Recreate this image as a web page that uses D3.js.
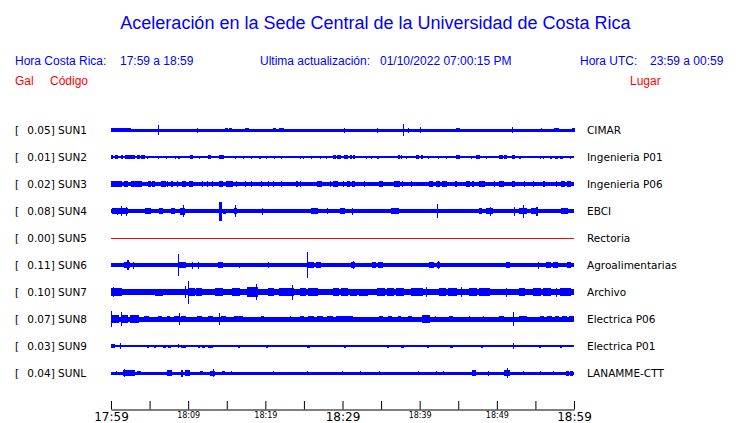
<!DOCTYPE html>
<html>
<head>
<meta charset="utf-8">
<script src="https://cdn.jsdelivr.net/npm/d3@7"></script>
<style>
  html, body { margin: 0; padding: 0; background: #fff; }
  svg { display: block; }
</style>
</head>
<body>
<svg id="chart" width="740" height="423"></svg>
<script>
// ---------------- DATA ----------------
const titleText = "Aceleración en la Sede Central de la Universidad de Costa Rica";
const headerLocal = ["Hora Costa Rica:", "17:59 a 18:59"];
const headerUpdate = ["Ultima actualización:", "01/10/2022 07:00:15 PM"];
const headerUTC = ["Hora UTC:", "23:59 a 00:59"];
const colHeads = ["Gal", "Código", "Lugar"];

const stationCodes = ["SUN1","SUN2","SUN3","SUN4","SUN5","SUN6","SUN7","SUN8","SUN9","SUNL"];
const stationPeaks = ["0.05","0.01","0.02","0.08","0.00","0.11","0.10","0.07","0.03","0.04"];
const stationPlaces = ["CIMAR","Ingenieria P01","Ingenieria P06","EBCI","Rectoria","Agroalimentarias","Archivo","Electrica P06","Electrica P01","LANAMME-CTT"];
// background (noise) half-amplitude of each trace, display units
const stationBase = [1.5, 0.55, 1.6, 1.6, 0, 1.6, 2.7, 2.5, 1.1, 1.5];

// time axis (minutes after 17:59)
const tickMinutes = [0,5,10,15,20,25,30,35,40,45,50,55,60];
const tickLabels  = ["17:59","","18:09","","18:19","","18:29","","18:39","","18:49","","18:59"];
const bigTicks    = ["17:59","18:29","18:59"];

// bursts / spikes of each trace: [start minute, end minute, half-amplitude]
const sun1Events = [[0,2.5,1.9],[6.1,6.1,5],[11.2,11.2,2.5],[14.8,15.1,2],[15.4,15.6,2],[17.4,17.8,2],[21,21.3,2],[21.9,22.3,2],
  [30.3,30.3,2.5],[34.5,34.5,2.5],[37.9,37.9,6],[38.5,38.5,2.5],[40.1,40.1,3],[44.8,45.1,2],[52.0,52.0,3],[55.8,55.8,2],[57.5,58,2],[59.8,60,2]];
const sun2Events = [[0,0.2,1.7],[0.6,0.8,1.7],[1.3,1.5,1.7],[1.9,2.1,1.7],[2.3,2.6,1.7],[2.8,3.1,1.7],[3.4,3.7,1.7],[3.9,4.4,1.7],
  [4.7,4.7,1.5],[6.1,6.1,1.5],[7.2,7.2,1.5],[8.3,8.3,1.5],[8.8,8.8,1.5],[10.3,10.6,1.7],[11.5,11.5,1.5],[12.6,12.9,1.7],[14.0,14.6,1.7],
  [16.1,16.1,1.5],[17.2,17.2,1.5],[18.2,18.2,1.5],[19.3,19.3,1.5],[20.2,20.2,1.5],[21.2,21.2,1.5],[22.1,22.1,1.5],[24.5,24.5,1.5],
  [24.9,24.9,1.5],[26.0,26.0,1.5],[27.1,27.1,1.5],[27.9,27.9,1.5],[28.8,29.1,1.7],[29.4,29.7,1.7],[30.3,30.6,1.7],[31.0,31.2,1.7],
  [31.4,31.6,1.7],[33.1,33.1,1.5],[33.8,33.8,1.5],[34.6,34.6,1.5],[37.2,37.4,1.7],[37.6,37.7,1.7],[38.3,38.3,1.5],[39.6,39.8,1.7],
  [40.2,40.4,1.7],[41.1,41.1,1.5],[42.4,42.4,1.5],[43.5,43.5,1.5],[44.8,45.2,1.7],[46.7,46.7,1.5],[47.4,47.8,1.7],[48.7,48.7,1.5],
  [50.4,50.7,1.7],[51.0,51.3,1.7],[52.0,52.3,2.0],[53,53,1.5],[55.6,55.6,1.5],[56.0,56.0,1.5],[56.9,57.1,1.5],[57.6,57.8,1.5],
  [58.3,58.5,1.5],[59.5,59.5,1.5]];
const sun3Events = [[0,0.15,2.7],[0.3,0.8,2.7],[1.0,1.4,2.7],[1.8,2.2,2.7],[2.7,3.4,2.7],[3.5,4.0,2.7],[4.8,5.1,2.7],[5.4,5.7,2.7],
  [6.6,7.0,2.7],[7.3,7.3,2.7],[7.9,7.9,2.7],[8.6,8.6,2.7],[9.3,9.6,2.7],[10.2,10.6,2.7],[11.9,11.9,2.7],[12.5,12.5,2.7],[13.1,13.1,2.7],
  [14.1,14.4,2.7],[15.0,15.8,2.7],[16.3,16.3,2.7],[17.4,17.4,2.7],[18.2,18.2,2.7],[19.5,19.5,2.7],[20.4,20.4,2.7],[21.1,21.1,2.7],
  [22.1,22.1,2.7],[24.1,24.1,2.7],[24.5,24.5,2.7],[26.8,27.3,2.7],[28.4,28.4,2.7],[28.8,29.4,2.7],[30.1,30.1,2.7],[30.6,30.9,2.7],
  [31.3,31.6,2.7],[32.9,32.9,2.7],[34.8,35.2,2.7],[36.8,37.4,2.7],[37.8,37.8,2.7],[38.9,38.9,2.7],[41.3,41.6,2.7],[42.2,42.6,2.7],
  [43.0,43.5,2.7],[44.6,44.8,2.7],[46.1,46.5,2.7],[46.9,46.9,2.7],[47.8,48.4,2.7],[49.7,49.7,2.7],[50.4,50.8,2.7],[52.0,52.3,3.3],
  [53.6,53.6,2.7],[54.7,54.7,2.7],[56.0,56.2,2.7],[57.7,57.7,2.7],[58.4,58.8,2.7],[59.1,59.5,2.7]];
const sun4Events = [[0.2,2.1,2.6],[0.8,0.8,3.5],[1.4,1.4,5],[2.0,2.0,4.5],[2.5,3.3,2.2],[4.5,5.1,2.8],[6.3,6.7,2.8],[7.9,8.2,3.2],
  [9.0,9.5,3.5],[9.4,9.4,6],[10.2,10.6,2.2],[11.5,11.9,2.2],[12.8,12.8,2.2],[14.1,14.3,9.5],[14.6,14.8,2.5],[16.0,16.3,3],[16.1,16.1,6],
  [17.6,17.9,2.4],[18.3,18.8,2.4],[19.6,19.6,3.5],[20.9,21.5,2.2],[22.3,22.3,2.2],[24.1,24.5,2.4],[26.0,26.7,2.8],[28.1,28.1,3],
  [29.7,30.3,2.8],[30.6,31.0,2.4],[31.3,31.3,3.5],[32.0,32.4,2.4],[32.8,33.2,2.4],[34.8,34.8,2.2],[36.4,37.2,3.2],[37.7,38.4,2.4],
  [38.8,39.6,2.4],[40.9,41.6,2.4],[42.3,42.3,7.3],[42.6,43.0,2.2],[43.6,44.3,2.2],[45,45,2.2],[46.5,46.5,2.2],[47.8,48,3],
  [48.7,49.5,2.8],[49.2,49.2,4.5],[50.1,50.4,2.2],[52.3,52.3,4.5],[53,53.9,3.2],[53.4,53.4,6.5],[54.5,55.3,2.8],[55.2,55.2,4.5],
  [56.9,57.3,2.4],[58.4,59.1,3]];
const sun5Events = [];
const sun6Events = [[0.6,1.4,2],[1.8,2.4,3.2],[2.2,2.2,4.7],[2.7,3.5,2.4],[2.9,2.9,3.5],[4.3,4.8,2],[5.3,5.5,2],[6.2,6.2,2],[7.5,7.5,2],
  [8.7,8.7,10.8],[8.9,9.6,3.2],[10.0,10.4,2.4],[10.5,10.5,3.5],[10.8,11.1,2.4],[11.3,11.3,3.5],[12.5,12.8,2],[13.9,14.5,3.2],[14.8,15.0,2.4],
  [16.7,16.7,2.5],[17.6,17.9,2.4],[18.4,18.9,2.4],[20.4,20.4,3],[21.8,21.8,2],[24.1,24.7,2.4],[25.4,25.4,12.7],[25.6,26.2,3.2],
  [26.6,27.1,2.8],[28.8,29.1,2.4],[29.4,29.7,2.4],[30.6,30.6,2],[31.2,31.6,3.2],[31.4,31.4,4.3],[32.2,32.5,2.4],[32.8,33.1,2.4],
  [33.9,34.3,2.8],[34.7,35.2,2.8],[36.1,36.4,2.4],[36.8,37.1,2.4],[40,40.4,2.4],[41.3,41.8,2.8],[42.4,42.4,4],[42.3,42.6,2.8],[43.5,43.9,2],
  [45.2,45.6,2.4],[46.0,46.3,2.4],[46.6,46.9,2.4],[47.8,48.2,2.4],[48.6,48.9,2.4],[49.2,49.5,2.4],[51.3,51.7,2.8],[52.1,52.4,2.4],
  [52.9,53.3,2.4],[53.8,54.2,2.4],[54.5,54.7,2.4],[55.4,55.4,3.5],[56.5,57.0,2.8],[57.3,57.8,2.8],[59.1,59.5,2.8]];
const sun7Events = [[0,1.4,4.2],[0.3,0.3,5.3],[1.7,2.4,3.4],[2.7,4.0,3.4],[4.5,5.5,3],[5.8,6.7,3.5],[7.7,8.3,3],[8.8,9.6,3],
  [9.7,9.7,5.8],[10.0,10.0,11.5],[10.2,10.8,3.8],[11.1,11.7,4.2],[12.2,12.8,3.4],[13.5,14.5,3.8],[15.8,16.7,3.8],[17.7,19.0,4.6],[18.9,18.9,7.7],
  [20.4,21.0,3.8],[21.9,23.6,4.2],[23.5,23.5,7.5],[24.5,25.2,3.8],[25.6,26.7,3.8],[28.8,29.5,3.8],[29.9,30.7,3.8],[31.0,31.8,3.5],[32.2,33.2,3.5],
  [34.5,35.4,3.8],[35.8,36.6,3.8],[37.0,37.9,3.8],[38.9,40.4,3.8],[40.9,40.9,5],[42.6,43.4,3.8],[43.8,44.8,3.8],[45.4,45.4,5],[46.5,47.4,3.8],
  [47.8,49.0,3.8],[51.3,51.3,4.5],[53,53.6,4.3],[54.7,55.6,3.8],[56.0,56.9,3.8],[57.7,57.7,4.5],[58.2,59.5,3.8]];
const sun8Events = [[0.0,0.0,7.7],[0.1,1.0,3.6],[1.3,1.3,7],[1.5,2.2,3.8],[2.5,3.2,3.8],[3.3,3.6,3.8],[4.4,4.8,3],[6.1,6.5,3],[7.3,7.6,3],
  [8.2,8.7,3],[8.9,8.9,6.2],[9.2,9.6,3.3],[11.2,11.7,3],[12.6,13.1,3],[14.0,14.0,5.7],[14.3,14.8,3.3],[16.0,17.0,3.3],[19.5,19.8,3],
  [23.2,23.2,3],[24.5,25.0,3],[25.6,26.2,3],[26.8,27.4,3],[28.0,28.7,3],[29.2,29.6,3],[29.7,31.3,3.3],[34.8,35.2,3],[36.0,36.3,3],
  [37.2,37.5,3],[38.5,38.9,3],[40.4,41.3,4.2],[42.1,42.1,3],[43.9,44.3,3],[46.5,46.5,3],[48.3,48.3,3],[50.4,50.9,3.3],[52.1,52.1,7.3],
  [53,53.9,3.3],[55.6,56.0,3],[56.6,57.1,3],[57.6,58.0,3],[58.5,59.0,3],[59.4,59.9,3]];
const sun9Events = [[0,0.5,1.7],[1.2,1.2,2.8],[4.7,4.9,1.5],[5.6,5.8,1.5],[6.8,7.0,1.5],[7.5,7.7,1.5],[8.7,8.7,2.3],[9.2,9.6,1.5],
  [11.3,11.5,1.5],[11.9,12.1,1.5],[12.6,13.1,1.5],[16.5,16.7,1.5],[20.1,20.3,1.5],[25.5,25.7,1.5],[30.2,30.4,1.5],[35.8,36.0,1.5],
  [37.7,37.9,1.5],[41.0,41.2,1.5],[44.0,44.2,1.5],[48.0,48.2,1.5],[52.1,52.1,3.3],[55.5,55.7,1.5],[58.2,58.4,1.5]];
const sunLEvents = [[0.7,0.7,2.3],[1.6,3.1,2.8],[1.8,1.8,3.8],[2.6,2.6,3.2],[3.4,3.8,2.3],[7.3,7.9,2.8],[9.2,9.2,3.5],[9.6,10.2,2.8],
  [11.6,11.8,2],[12.9,13.4,2.5],[13.3,13.3,4],[14.5,14.7,2],[15.6,15.6,2],[21.0,21.0,2.3],[25.5,25.5,2.3],[30.0,30.0,2.3],
  [32.3,32.3,2.3],[34.8,34.8,2],[39.8,39.8,2],[42.2,42.2,2],[43.1,43.1,2],[46.8,47.2,2.8],[48.9,48.9,2.5],[51.0,51.7,3.2],
  [51.4,51.4,4.8],[53.4,53.4,2.3],[55.6,55.6,2],[57.3,57.3,2.3],[59.0,59.3,2.5],[59.6,59.8,2.5]];
const stationEvents = [sun1Events,sun2Events,sun3Events,sun4Events,sun5Events,sun6Events,sun7Events,sun8Events,sun9Events,sunLEvents];

// ---------------- DRAWING ----------------
const svg = d3.select("#chart");
const BLUE = "#0000ff", RED = "#ff0000";
const HEAD_FONT = "'Liberation Sans', Arial, Helvetica, sans-serif";
const LBL_FONT = "'DejaVu Sans', Verdana, sans-serif";

const x = d3.scaleLinear().domain([0, 60]).range([111, 574]);
const y = d3.scalePoint().domain(stationCodes).range([130, 373]);
const amp = d3.scaleLinear().domain([0, 1]).range([0, 1]);

// title & headers
svg.append("text").attr("x", 375.5).attr("y", 29).attr("text-anchor", "middle")
  .attr("font-family", HEAD_FONT).attr("font-size", 18).attr("fill", BLUE).text(titleText);

const head = (txt, xx, yy, col) => svg.append("text").attr("x", xx).attr("y", yy)
  .attr("font-family", HEAD_FONT).attr("font-size", 12).attr("fill", col).text(txt);
head(headerLocal[0], 15, 65, BLUE); head(headerLocal[1], 120, 65, BLUE);
head(headerUpdate[0], 260, 65, BLUE); head(headerUpdate[1], 380, 65, BLUE);
head(headerUTC[0], 580, 65, BLUE); head(headerUTC[1], 650, 65, BLUE);
head(colHeads[0], 15, 85, RED); head(colHeads[1], 50, 85, RED); head(colHeads[2], 630, 85, RED);

// traces
const rows = svg.append("g").selectAll("g").data(stationCodes).join("g")
  .attr("transform", d => `translate(0,${y(d)})`);

rows.each(function(code, i) {
  const g = d3.select(this);
  const col = code === "SUN5" ? RED : BLUE;
  const base = stationBase[i];
  const h = Math.max(1, 2 * amp(base));
  const tr = g.append("g").attr("shape-rendering", "crispEdges");
  tr.append("rect").attr("x", x(0)).attr("y", -h / 2).attr("width", x(60) - x(0)).attr("height", h).attr("fill", col);
  tr.selectAll("rect.ev").data(stationEvents[i]).join("rect").attr("class", "ev")
    .attr("x", d => x(d[0]) - 0.5)
    .attr("width", d => Math.max(1.1, x(d[1]) - x(d[0]) + 1))
    .attr("y", d => -amp(d[2]))
    .attr("height", d => 2 * amp(d[2]))
    .attr("fill", col);

  g.append("text").attr("x", 15).attr("y", 4).attr("font-family", LBL_FONT).attr("font-size", 10.5)
    .attr("fill", "#000").text("[");
  g.append("text").attr("x", 27.3).attr("y", 4).attr("font-family", LBL_FONT).attr("font-size", 10.5)
    .attr("fill", "#000").attr("xml:space", "preserve").text(stationPeaks[i] + "] " + code);
  g.append("text").attr("x", 587).attr("y", 4).attr("font-family", LBL_FONT).attr("font-size", 10.5)
    .attr("fill", "#000").text(stationPlaces[i]);
});

// time axis
const axis = d3.axisBottom(x).tickValues(tickMinutes).tickSizeInner(-8.5).tickSizeOuter(0)
  .tickFormat((d, i) => tickLabels[i]);
const ax = svg.append("g").attr("transform", "translate(0,409.5)").call(axis);
ax.select(".domain").attr("stroke", "#000");
ax.selectAll(".tick line").attr("stroke", "#000");
ax.selectAll(".tick text")
  .attr("font-family", LBL_FONT).attr("fill", "#000").attr("dy", null)
  .attr("font-size", (d, i) => bigTicks.includes(tickLabels[i]) ? 12 : 8)
  .attr("y", (d, i) => bigTicks.includes(tickLabels[i]) ? 11.5 : 8);
</script>
</body>
</html>
